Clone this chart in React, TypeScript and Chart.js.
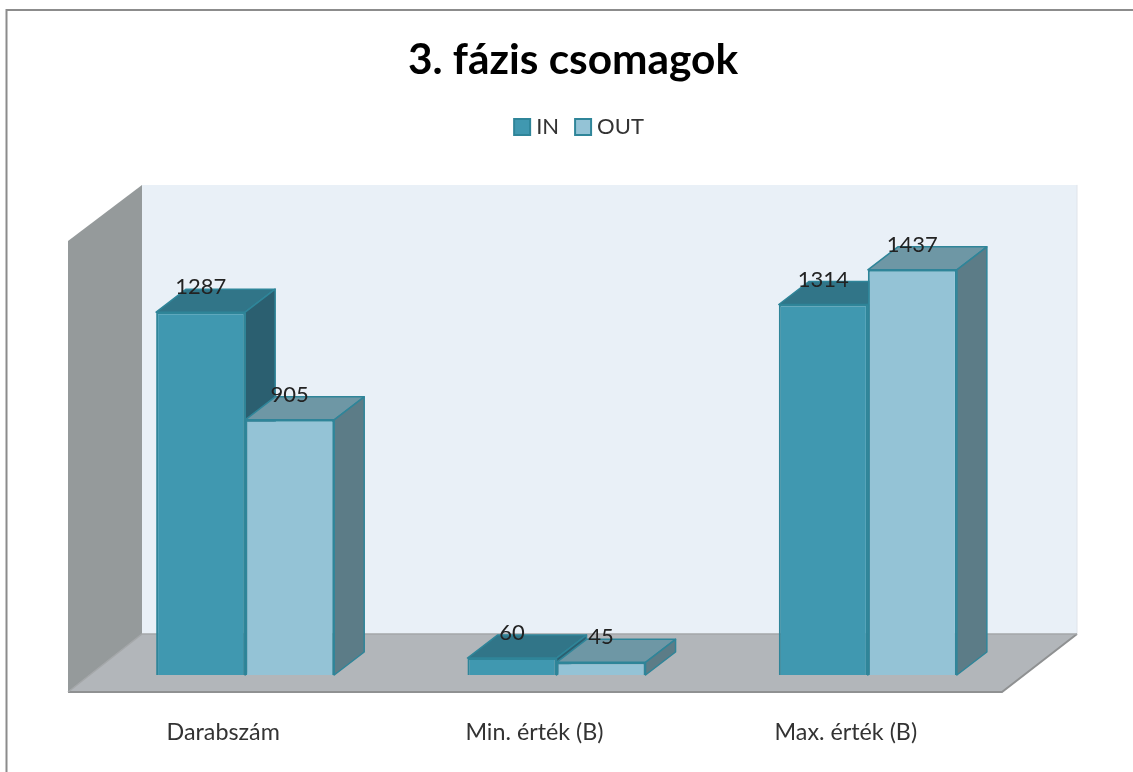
import React, { useEffect, useRef } from "react";
import { Chart, registerables } from "chart.js";

Chart.register(...registerables);

const chartTitle = "3. fázis csomagok";
const categories = ["Darabszám", "Min. érték (B)", "Max. érték (B)"];
const inValues = [1287, 60, 1314];
const outValues = [905, 45, 1437];
const FONT = "Lato, 'Open Sans', sans-serif";

const BAR_DX = 30;
const BAR_DY = -23;

function poly(ctx: CanvasRenderingContext2D, pts: number[][], fill: string, stroke?: string, lw = 1.5) {
  ctx.beginPath();
  pts.forEach((p, i) => (i ? ctx.lineTo(p[0], p[1]) : ctx.moveTo(p[0], p[1])));
  ctx.closePath();
  ctx.fillStyle = fill;
  ctx.fill();
  if (stroke) {
    ctx.strokeStyle = stroke;
    ctx.lineWidth = lw;
    ctx.lineJoin = "round";
    ctx.stroke();
  }
}

const faces = [
  { top: "#317588", side: "#2b5f70" },
  { top: "#6e97a5", side: "#5c7c87" },
];

const box3d = {
  id: "box3d",
  afterLayout(chart: any) {
    chart.legend.left += 7;
    chart.legend.right += 7;
    chart.titleBlock.left -= 1.5;
    chart.titleBlock.right -= 1.5;
  },
  beforeDraw(chart: any) {
    const { ctx, width, height } = chart;
    ctx.save();
    ctx.fillStyle = "#ffffff";
    ctx.fillRect(0, 0, width, height);
    ctx.strokeStyle = "#8c8c8c";
    ctx.lineWidth = 2;
    ctx.beginPath();
    ctx.moveTo(6.5, height);
    ctx.lineTo(6.5, 10);
    ctx.lineTo(width, 10);
    ctx.stroke();
    ctx.restore();
  },
  beforeDatasetsDraw(chart: any) {
    const { ctx, chartArea: a } = chart;
    const fl = a.left - 21.5;
    const fr = a.right - 21.5;
    const fb = a.bottom + 17;
    const ft = a.top + 17;
    const bl = fl + 74;
    const br = fr + 75;
    const bb = fb - 58;
    const bt = ft - 56;
    ctx.save();
    // back wall
    poly(ctx, [[bl, bt], [br, bt], [br, bb], [bl, bb]], "#e9f0f7");
    ctx.strokeStyle = "#dfe4ea";
    ctx.lineWidth = 1;
    ctx.beginPath();
    ctx.moveTo(br, bt);
    ctx.lineTo(br, bb);
    ctx.stroke();
    // side wall
    poly(ctx, [[fl, ft], [bl, bt], [bl, bb], [fl, fb]], "#959a9b");
    // floor
    poly(ctx, [[fl, fb], [bl, bb], [br, bb], [fr, fb]], "#b2b6ba");
    ctx.strokeStyle = "#8f9192";
    ctx.lineWidth = 2;
    ctx.beginPath();
    ctx.moveTo(fl, fb);
    ctx.lineTo(fr, fb);
    ctx.lineTo(br, bb);
    ctx.stroke();
    ctx.strokeStyle = "#a4a7a9";
    ctx.lineWidth = 1.5;
    ctx.beginPath();
    ctx.moveTo(fl, fb);
    ctx.lineTo(bl, bb);
    ctx.lineTo(br, bb);
    ctx.stroke();
    // depth faces of the bars, following the elements the library laid out
    chart.data.datasets.forEach((ds: any, i: number) => {
      chart.getDatasetMeta(i).data.forEach((bar: any) => {
        const p = bar.getProps(["x", "y", "base", "width"], true);
        const l = p.x - p.width / 2;
        const r = p.x + p.width / 2;
        poly(ctx, [[l, p.y], [l + BAR_DX, p.y + BAR_DY], [r + BAR_DX, p.y + BAR_DY], [r, p.y]], faces[i].top, ds.borderColor);
        poly(ctx, [[r, p.y], [r + BAR_DX, p.y + BAR_DY], [r + BAR_DX, p.base + BAR_DY], [r, p.base]], faces[i].side, ds.borderColor);
      });
    });
    ctx.restore();
  },
  afterDatasetsDraw(chart: any) {
    const { ctx } = chart;
    ctx.save();
    ctx.font = `22px ${FONT}`;
    ctx.fillStyle = "#222222";
    ctx.textAlign = "center";
    ctx.textBaseline = "middle";
    chart.data.datasets.forEach((ds: any, i: number) => {
      chart.getDatasetMeta(i).data.forEach((bar: any, j: number) => {
        ctx.fillText(String(ds.data[j]), bar.x, bar.y - 25);
      });
    });
    ctx.restore();
  },
};

export default function App() {
  const ref = useRef<HTMLCanvasElement>(null);
  useEffect(() => {
    const chart = new Chart(ref.current as HTMLCanvasElement, {
      type: "bar",
      data: {
        labels: categories,
        datasets: [
          { label: "IN", data: inValues, backgroundColor: "#4098b0", borderColor: "#2f8599", borderWidth: 2, pointStyle: "rect" },
          { label: "OUT", data: outValues, backgroundColor: "#94c3d6", borderColor: "#2f8599", borderWidth: 2, pointStyle: "rect" },
        ],
      },
      plugins: [box3d],
      options: {
        responsive: false,
        animation: false,
        layout: { padding: { left: 89.5, right: 73.5, top: 0, bottom: 0 } },
        datasets: { bar: { barPercentage: 1, categoryPercentage: 0.572 } },
        scales: {
          x: {
            grid: { display: false },
            border: { display: false },
            afterFit: (s: any) => { s.height = 97; },
            ticks: { padding: 35, labelOffset: -22, maxRotation: 0, color: "#333333", font: { family: FONT, size: 23.3 } },
          },
          y: {
            position: "right",
            min: 0,
            max: 1600,
            grid: { display: false },
            border: { display: false },
            ticks: { display: false },
            afterFit: (s: any) => { s.width = 36; },
          },
        },
        plugins: {
          tooltip: { enabled: false },
          title: {
            display: true,
            text: chartTitle,
            color: "#000000",
            font: { family: FONT, size: 42.4, weight: "bold" },
            padding: { top: 35, bottom: 9 },
          },
          subtitle: { display: true, text: "", weight: 500, font: { size: 1, lineHeight: 1 }, padding: { top: 0, bottom: 75 } },
          legend: {
            display: true,
            position: "top",
            labels: { usePointStyle: true, boxWidth: 6, boxHeight: 16, padding: 21, color: "#333333", font: { family: FONT, size: 22 } },
          },
        },
      } as any,
    });
    return () => chart.destroy();
  }, []);
  return <canvas ref={ref} width={1133} height={772} style={{ position: "absolute", left: 0, top: 0, display: "block" }} />;
}
